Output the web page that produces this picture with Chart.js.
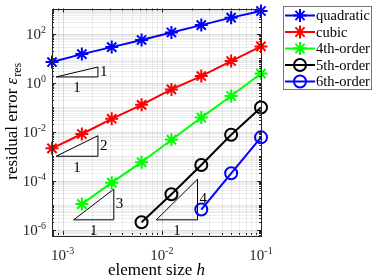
<!DOCTYPE html>
<html>
<head>
<meta charset="utf-8">
<script src="https://cdn.jsdelivr.net/npm/chart.js@4"></script>
<style>
  body { margin: 0; background: #fff; }
</style>
</head>
<body>
<canvas id="convChart" width="374" height="279"></canvas>
<script>
// element sizes h (halved each refinement)
var hValues = [0.00078125, 0.0015625, 0.003125, 0.00625, 0.0125, 0.025, 0.05, 0.1];

// residual error per polynomial order (null = no run at that h)
var quadratic   = [7.1, 15, 29, 57, 115, 230, 465, 870];
var cubic       = [0.0021, 0.0081, 0.034, 0.126, 0.54, 1.9, 7.8, 31];
var fourthOrder = [null, 1.1e-5, 8.3e-5, 5.7e-4, 4.7e-3, 3.8e-2, 0.29, 2.4];
var fifthOrder  = [null, null, null, 2.0e-6, 2.8e-5, 4.4e-4, 7.6e-3, 9.8e-2];
var sixthOrder  = [null, null, null, null, null, 6.6e-6, 2.0e-4, 5.9e-3];

var seriesNames = ["quadratic", "cubic", "4th-order", "5th-order", "6th-order"];

// slope triangles: h left/right, error bottom/top, slope label
var triH   = [[8.6e-4, 2.27e-3], [8.6e-4, 2.27e-3], [1.29e-3, 3.28e-3], [8.8e-3, 2.29e-2]];
var triErr = [[1.75, 4.45], [1.0e-3, 6.9e-3], [2.5e-6, 4.5e-5], [2.5e-6, 1.15e-4]];
var triSlope = ["1", "2", "3", "4"];

// tick labels (powers of ten)
var xTickExp = [-3, -2, -1];
var yTickExp = [-6, -4, -2, 0, 2];

var SERIF = "'Liberation Serif', 'DejaVu Serif', serif";

function toPoints(vals) {
    var pts = [];
    for (var i = 0; i < vals.length; i++) {
        if (vals[i] !== null) pts.push({ x: hValues[i], y: vals[i] });
    }
    return pts;
}

function series(name, vals, color, marker) {
    return {
        label: name,
        data: toPoints(vals),
        showLine: true,
        clip: false,
        borderColor: color,
        borderWidth: 2,
        pointStyle: marker,
        pointRadius: marker === "circle" ? 6 : 6.5,
        pointBorderWidth: 2,
        pointBorderColor: color,
        pointBackgroundColor: "rgba(0,0,0,0)",
        pointHoverRadius: 6.5
    };
}

var datasets = [
    series(seriesNames[0], quadratic, "#0000ff", "star"),
    series(seriesNames[1], cubic, "#ff0000", "star"),
    series(seriesNames[2], fourthOrder, "#00ff00", "star"),
    series(seriesNames[3], fifthOrder, "#000000", "circle"),
    series(seriesNames[4], sixthOrder, "#0000ff", "circle")
];

for (var t = 0; t < triH.length; t++) {
    datasets.push({
        label: "slope " + triSlope[t],
        data: [
            { x: triH[t][0], y: triErr[t][0] },
            { x: triH[t][1], y: triErr[t][0] },
            { x: triH[t][1], y: triErr[t][1] },
            { x: triH[t][0], y: triErr[t][0] }
        ],
        showLine: true,
        borderColor: "#000",
        borderWidth: 1,
        pointRadius: 0
    });
}

function drawPow(ctx, x, y, expo, align) {
    ctx.font = "15px " + SERIF;
    var bw = ctx.measureText("10").width;
    ctx.font = "10px " + SERIF;
    var es = String(expo);
    var ew = ctx.measureText(es).width;
    var x0 = x;
    if (align === "center") x0 = x - (bw + ew) / 2;
    if (align === "right") x0 = x - (bw + ew);
    ctx.textAlign = "left";
    ctx.textBaseline = "alphabetic";
    ctx.font = "15px " + SERIF;
    ctx.fillText("10", x0, y);
    ctx.font = "10px " + SERIF;
    ctx.fillText(es, x0 + bw, y - 6);
}

function decadeLines(min, max) {
    var major = [], minor = [];
    var e0 = Math.floor(Math.log10(min)), e1 = Math.ceil(Math.log10(max));
    for (var e = e0; e <= e1; e++) {
        for (var k = 1; k <= 9; k++) {
            var v = k * Math.pow(10, e);
            if (v < min * 0.9999 || v > max * 1.0001) continue;
            if (k === 1) major.push({ v: v, e: e }); else minor.push({ v: v, e: e });
        }
    }
    return { major: major, minor: minor };
}

var gridPlugin = {
    id: "matlabAxes",
    beforeDatasetsDraw: function (chart) {
        var ctx = chart.ctx, a = chart.chartArea;
        var xs = chart.scales.x, ys = chart.scales.y;
        var xl = decadeLines(xs.min, xs.max), yl = decadeLines(ys.min, ys.max);
        ctx.save();
        ctx.lineWidth = 1;
        // minor grid
        ctx.strokeStyle = "rgba(0,0,0,0.07)";
        xl.minor.forEach(function (d) {
            var p = Math.round(xs.getPixelForValue(d.v)) + 0.5;
            ctx.beginPath(); ctx.moveTo(p, a.top); ctx.lineTo(p, a.bottom); ctx.stroke();
        });
        yl.minor.concat(yl.major.filter(function (d) { return yTickExp.indexOf(d.e) < 0; })).forEach(function (d) {
            var p = Math.round(ys.getPixelForValue(d.v)) + 0.5;
            ctx.beginPath(); ctx.moveTo(a.left, p); ctx.lineTo(a.right, p); ctx.stroke();
        });
        // major grid
        ctx.strokeStyle = "rgba(0,0,0,0.13)";
        xl.major.forEach(function (d) {
            var p = Math.round(xs.getPixelForValue(d.v)) + 0.5;
            ctx.beginPath(); ctx.moveTo(p, a.top); ctx.lineTo(p, a.bottom); ctx.stroke();
        });
        yTickExp.forEach(function (e) {
            var p = Math.round(ys.getPixelForValue(Math.pow(10, e))) + 0.5;
            ctx.beginPath(); ctx.moveTo(a.left, p); ctx.lineTo(a.right, p); ctx.stroke();
        });
        ctx.restore();
    },
    afterDatasetsDraw: function (chart) {
        var ctx = chart.ctx, a = chart.chartArea;
        var xs = chart.scales.x, ys = chart.scales.y;
        var xl = decadeLines(xs.min, xs.max), yl = decadeLines(ys.min, ys.max);
        ctx.save();
        ctx.strokeStyle = "#262626";
        ctx.lineWidth = 1;
        // inward ticks on all four sides
        function xTick(v, len) {
            var p = Math.round(xs.getPixelForValue(v)) + 0.5;
            ctx.beginPath();
            ctx.moveTo(p, a.bottom); ctx.lineTo(p, a.bottom - len);
            ctx.moveTo(p, a.top); ctx.lineTo(p, a.top + len);
            ctx.stroke();
        }
        function yTick(v, len) {
            var p = Math.round(ys.getPixelForValue(v)) + 0.5;
            ctx.beginPath();
            ctx.moveTo(a.left, p); ctx.lineTo(a.left + len, p);
            ctx.moveTo(a.right, p); ctx.lineTo(a.right - len, p);
            ctx.stroke();
        }
        xl.minor.forEach(function (d) { xTick(d.v, 2); });
        xl.major.forEach(function (d) { xTick(d.v, 4); });
        yl.minor.forEach(function (d) { yTick(d.v, 2); });
        yl.major.forEach(function (d) { yTick(d.v, yTickExp.indexOf(d.e) >= 0 ? 4 : 2); });
        // box
        ctx.strokeRect(Math.round(a.left) + 0.5, Math.round(a.top) + 0.5,
            Math.round(a.right - a.left), Math.round(a.bottom - a.top));

        // slope triangle labels
        ctx.fillStyle = "#000";
        ctx.font = "15px " + SERIF;
        for (var t = 0; t < triH.length; t++) {
            var xr = xs.getPixelForValue(triH[t][1]);
            var xlft = xs.getPixelForValue(triH[t][0]);
            var yb = ys.getPixelForValue(triErr[t][0]);
            var yt = ys.getPixelForValue(triErr[t][1]);
            ctx.textAlign = "left"; ctx.textBaseline = "middle";
            ctx.fillText(triSlope[t], xr + 2, (yb + yt) / 2);
            ctx.textAlign = "center"; ctx.textBaseline = "top";
            ctx.fillText("1", (xlft + xr) / 2, yb + 4);
        }

        // tick labels
        ctx.fillStyle = "#262626";
        xTickExp.forEach(function (e) {
            drawPow(ctx, xs.getPixelForValue(Math.pow(10, e)), a.bottom + 25, e, "center");
        });
        yTickExp.forEach(function (e) {
            drawPow(ctx, a.left - 6, ys.getPixelForValue(Math.pow(10, e)) + 5, e, "right");
        });

        // axis titles
        ctx.fillStyle = "#000";
        ctx.textBaseline = "alphabetic";
        var s1 = "element size ";
        ctx.font = "17px " + SERIF;
        var w1 = ctx.measureText(s1).width;
        ctx.font = "italic 17px " + SERIF;
        var w2 = ctx.measureText("h").width;
        var cx = (a.left + a.right) / 2 - (w1 + w2) / 2;
        ctx.textAlign = "left";
        ctx.font = "17px " + SERIF;
        ctx.fillText(s1, cx, 275);
        ctx.font = "italic 17px " + SERIF;
        ctx.fillText("h", cx + w1, 275);

        ctx.translate(17, (a.top + a.bottom) / 2);
        ctx.rotate(-Math.PI / 2);
        var p1 = "residual error ";
        ctx.font = "17px " + SERIF;
        var q1 = ctx.measureText(p1).width;
        ctx.font = "italic 17px " + SERIF;
        var q2 = ctx.measureText("\u03b5").width;
        ctx.font = "12px " + SERIF;
        var q3 = ctx.measureText("res").width;
        var sx = -(q1 + q2 + q3) / 2;
        ctx.font = "17px " + SERIF;
        ctx.fillText(p1, sx, 0);
        ctx.font = "italic 17px " + SERIF;
        ctx.fillText("\u03b5", sx + q1, 0);
        ctx.font = "12px " + SERIF;
        ctx.fillText("res", sx + q1 + q2 + 1, 4);
        ctx.restore();
    },
    afterDraw: function (chart) {
        // legend box at upper right, outside the axes
        var ctx = chart.ctx;
        var bx = 283, by = 6, bw = 88, bh = 83;
        ctx.save();
        ctx.fillStyle = "#fff";
        ctx.fillRect(bx, by, bw, bh);
        ctx.strokeStyle = "#777";
        ctx.lineWidth = 1;
        ctx.strokeRect(bx + 0.5, by + 0.5, bw, bh);
        for (var i = 0; i < seriesNames.length; i++) {
            var ds = chart.data.datasets[i];
            var cy = by + 9.5 + i * 16.5;
            ctx.strokeStyle = ds.borderColor;
            ctx.lineWidth = 2;
            ctx.beginPath(); ctx.moveTo(bx + 2, cy); ctx.lineTo(bx + 32, cy); ctx.stroke();
            var mx = bx + 17, r = ds.pointRadius;
            ctx.beginPath();
            if (ds.pointStyle === "circle") {
                ctx.arc(mx, cy, r, 0, Math.PI * 2);
            } else {
                ctx.moveTo(mx - r, cy); ctx.lineTo(mx + r, cy);
                ctx.moveTo(mx, cy - r); ctx.lineTo(mx, cy + r);
                var d = r * Math.SQRT1_2;
                ctx.moveTo(mx - d, cy - d); ctx.lineTo(mx + d, cy + d);
                ctx.moveTo(mx - d, cy + d); ctx.lineTo(mx + d, cy - d);
            }
            ctx.stroke();
            ctx.fillStyle = "#000";
            ctx.font = "14.5px " + SERIF;
            ctx.textAlign = "left";
            ctx.textBaseline = "middle";
            ctx.fillText(seriesNames[i], bx + 33, cy + 1);
        }
        ctx.restore();
    }
};

var ctx = document.getElementById("convChart").getContext("2d");
var chart = new Chart(ctx, {
    type: "scatter",
    data: { datasets: datasets },
    options: {
        responsive: false,
        animation: false,
        layout: { padding: { left: 52, right: 113, top: 6, bottom: 44 } },
        plugins: { legend: { display: false }, tooltip: { enabled: false } },
        scales: {
            x: {
                type: "logarithmic",
                min: hValues[0],
                max: hValues[hValues.length - 1],
                ticks: { display: false },
                grid: { display: false, drawTicks: false },
                border: { display: false }
            },
            y: {
                type: "logarithmic",
                min: 6e-7,
                max: 1100,
                ticks: { display: false },
                grid: { display: false, drawTicks: false },
                border: { display: false }
            }
        }
    },
    plugins: [gridPlugin]
});
</script>
</body>
</html>
